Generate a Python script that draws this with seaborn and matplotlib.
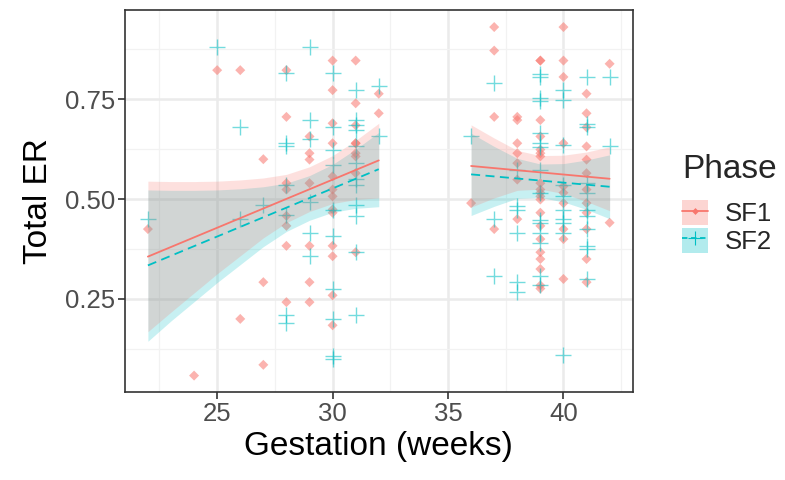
import numpy as np
import pandas as pd
import matplotlib
matplotlib.use("Agg")
import matplotlib.pyplot as plt
import seaborn as sns
from matplotlib.lines import Line2D
from matplotlib.patches import Patch
from matplotlib.legend_handler import HandlerTuple

# ---------------- data ----------------
sf1_gest = ([22] + [24] + [25] + [26]*2 + [27]*3 + [28]*8 + [29]*7 + [30]*13 + [31]*9 + [32]*2
            + [36] + [37]*4 + [38]*7 + [39]*20 + [40]*10 + [41]*12 + [42]*2)
sf1_er = ([0.425] + [0.058] + [0.823] + [0.823, 0.20] + [0.60, 0.292, 0.085]
          + [0.823, 0.706, 0.54, 0.524, 0.458, 0.433, 0.383, 0.242]
          + [0.657, 0.615, 0.599, 0.54, 0.383, 0.292, 0.242]
          + [0.847, 0.773, 0.69, 0.64, 0.557, 0.524, 0.507, 0.474, 0.466, 0.383, 0.357, 0.259, 0.184]
          + [0.847, 0.74, 0.685, 0.64, 0.64, 0.615, 0.607, 0.565, 0.367]
          + [0.764, 0.715]
          + [0.49]
          + [0.931, 0.872, 0.706, 0.425]
          + [0.706, 0.698, 0.64, 0.615, 0.59, 0.549, 0.45]
          + [0.847, 0.847, 0.698, 0.657, 0.624, 0.615, 0.607, 0.54, 0.524, 0.516,
             0.507, 0.499, 0.466, 0.433, 0.40, 0.367, 0.35, 0.325, 0.284, 0.276]
          + [0.931, 0.847, 0.806, 0.64, 0.532, 0.516, 0.49, 0.425, 0.40, 0.30]
          + [0.764, 0.715, 0.68, 0.632, 0.599, 0.565, 0.524, 0.49, 0.466, 0.425, 0.35, 0.292]
          + [0.839, 0.441])

sf2_gest = ([22] + [25] + [26]*2 + [27] + [28]*7 + [29]*6 + [30]*10 + [31]*12 + [32]*2
            + [36] + [37]*3 + [38]*6 + [39]*15 + [40]*10 + [41]*11 + [42]*2)
sf2_er = ([0.45] + [0.881] + [0.68, 0.45] + [0.485]
          + [0.817, 0.64, 0.634, 0.535, 0.46, 0.209, 0.19]
          + [0.881, 0.698, 0.65, 0.493, 0.416, 0.357]
          + [0.817, 0.68, 0.624, 0.585, 0.474, 0.408, 0.275, 0.20, 0.108, 0.10]
          + [0.773, 0.697, 0.685, 0.672, 0.632, 0.59, 0.55, 0.535, 0.485, 0.458, 0.367, 0.209]
          + [0.784, 0.657]
          + [0.657]
          + [0.79, 0.45, 0.308]
          + [0.574, 0.483, 0.474, 0.416, 0.292, 0.267]
          + [0.814, 0.806, 0.753, 0.745, 0.665, 0.64, 0.63, 0.574, 0.516, 0.448,
             0.441, 0.416, 0.391, 0.308, 0.284]
          + [0.773, 0.748, 0.635, 0.535, 0.507, 0.474, 0.45, 0.441, 0.416, 0.109]
          + [0.806, 0.689, 0.68, 0.54, 0.516, 0.474, 0.458, 0.425, 0.383, 0.375, 0.30]
          + [0.806, 0.632])

# fitted lines (end points) and confidence bands
pre_line_x = [22, 32]
term_line_x = [36, 42]
sf1_fit_pre = [0.356, 0.597]
sf2_fit_pre = [0.334, 0.575]
sf1_fit_term = [0.583, 0.551]
sf2_fit_term = [0.562, 0.531]

pre_band_x = [22, 23, 24, 25, 26, 27, 28, 29, 30, 31, 32]
sf1_hi_pre = [0.545, 0.544, 0.544, 0.545, 0.548, 0.553, 0.562, 0.581, 0.609, 0.647, 0.690]
sf1_lo_pre = [0.168, 0.217, 0.265, 0.313, 0.358, 0.403, 0.441, 0.469, 0.489, 0.499, 0.503]
sf2_hi_pre = [0.523, 0.522, 0.522, 0.523, 0.526, 0.531, 0.540, 0.559, 0.587, 0.625, 0.667]
sf2_lo_pre = [0.144, 0.195, 0.243, 0.291, 0.336, 0.381, 0.419, 0.447, 0.467, 0.477, 0.481]

term_band_x = [36, 37, 38, 39, 40, 41, 42]
sf1_hi_term = [0.686, 0.653, 0.622, 0.609, 0.610, 0.618, 0.631]
sf1_lo_term = [0.480, 0.503, 0.522, 0.525, 0.514, 0.494, 0.471]
sf2_hi_term = [0.665, 0.632, 0.602, 0.588, 0.589, 0.598, 0.611]
sf2_lo_term = [0.459, 0.482, 0.502, 0.504, 0.493, 0.474, 0.451]

phases = ["SF1", "SF2"]
x_ticks = [25, 30, 35, 40]
y_ticks = [0.25, 0.50, 0.75]
y_tick_labels = ["0.25", "0.50", "0.75"]

df = pd.DataFrame({
    "Gestation": sf1_gest + sf2_gest,
    "ER": sf1_er + sf2_er,
    "Phase": ["SF1"] * len(sf1_gest) + ["SF2"] * len(sf2_gest),
})

# ---------------- style ----------------
sns.set_theme(style="white")
plt.rcParams["font.family"] = ["Liberation Sans", "DejaVu Sans"]

colors = {"SF1": "#F8766D", "SF2": "#00BFC4"}
band_alpha = 0.22

fig = plt.figure(figsize=(7.85, 4.8), dpi=100)
ax = fig.add_axes([0.159, 0.183, 0.647, 0.796])
ax.set_facecolor("white")

ax.set_xticks(x_ticks)
ax.set_xticks([22.5, 27.5, 32.5, 37.5, 42.5], minor=True)
ax.set_yticks(y_ticks)
ax.set_yticks([0.125, 0.375, 0.625, 0.875], minor=True)
ax.grid(True, which="major", color="#EBEBEB", lw=1.8, zorder=0)
ax.grid(True, which="minor", color="#F2F2F2", lw=0.9, zorder=0)
ax.set_axisbelow(True)

# points
d1 = df[df.Phase == "SF1"]
d2 = df[df.Phase == "SF2"]
sns.scatterplot(data=d1, x="Gestation", y="ER", ax=ax, marker="D", s=26,
                color=colors["SF1"], alpha=0.55, edgecolor="none", legend=False, zorder=2)
sns.scatterplot(data=d2, x="Gestation", y="ER", ax=ax, marker="+", s=120,
                color=colors["SF2"], alpha=0.55, linewidth=1.0, legend=False, zorder=2)

# confidence bands (SF2 first, SF1 on top -> neutral grey overlap)
for bx, hi, lo, ph in [(pre_band_x, sf2_hi_pre, sf2_lo_pre, "SF2"),
                       (term_band_x, sf2_hi_term, sf2_lo_term, "SF2"),
                       (pre_band_x, sf1_hi_pre, sf1_lo_pre, "SF1"),
                       (term_band_x, sf1_hi_term, sf1_lo_term, "SF1")]:
    ax.fill_between(bx, lo, hi, color=colors[ph], alpha=band_alpha, lw=0, zorder=3)

# fitted lines
for lx, ly in [(pre_line_x, sf1_fit_pre), (term_line_x, sf1_fit_term)]:
    sns.lineplot(x=lx, y=ly, ax=ax, color=colors["SF1"], lw=1.3, zorder=4)
for lx, ly in [(pre_line_x, sf2_fit_pre), (term_line_x, sf2_fit_term)]:
    sns.lineplot(x=lx, y=ly, ax=ax, color=colors["SF2"], lw=1.3, zorder=4,
                 linestyle=(0, (5, 3)))

ax.set_xlim(21, 43)
ax.set_ylim(0.0165, 0.9735)
ax.set_yticklabels(y_tick_labels)

for s in ax.spines.values():
    s.set_color("#333333")
    s.set_linewidth(1.2)
ax.tick_params(axis="both", which="major", length=5, width=1.2, color="#333333",
               labelsize=18.5, labelcolor="#4D4D4D", pad=2, bottom=True, left=True)
ax.tick_params(axis="both", which="minor", length=0)

ax.set_xlabel("Gestation (weeks)", fontsize=24, color="black", labelpad=4)
ax.set_ylabel("Total ER", fontsize=24, color="black", labelpad=8)

# legend
handles = []
for ph in phases:
    patch = Patch(facecolor=colors[ph], alpha=0.3, edgecolor="none")
    if ph == "SF1":
        ln = Line2D([], [], color=colors[ph], lw=1.3, ls="-", marker="D",
                    markersize=3.5, markeredgecolor="none")
    else:
        ln = Line2D([], [], color=colors[ph], lw=1.3, ls=(0, (3, 2)), marker="+",
                    markersize=10, markeredgewidth=0.8)
    handles.append((patch, ln))

leg = fig.legend(handles, phases, title="Phase", loc="upper left",
                 bbox_to_anchor=(0.869, 0.68), frameon=False,
                 handler_map={tuple: HandlerTuple(ndivide=1)},
                 fontsize=18.5, title_fontsize=24, handlelength=1.0,
                 handleheight=1.15, handletextpad=0.65, labelspacing=0.05,
                 borderpad=0, borderaxespad=0)
leg._legend_box.align = "left"
leg._legend_box.sep = 11

fig.savefig("out.png", dpi=100)
